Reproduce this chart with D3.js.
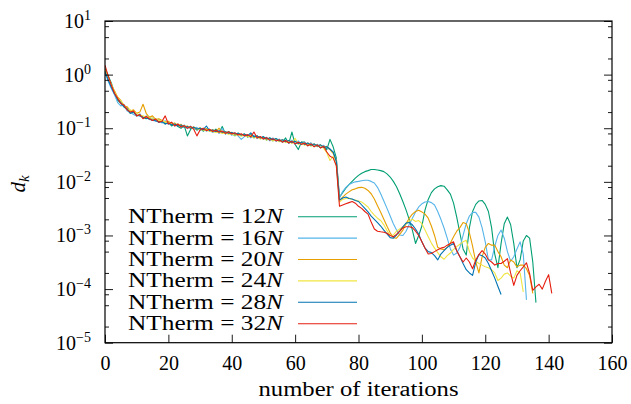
<!DOCTYPE html>
<html>
<head>
<meta charset="utf-8">
<script src="https://cdn.jsdelivr.net/npm/d3@7"></script>
<style>
  html, body { margin: 0; padding: 0; background: #fff; }
  svg { display: block; }
  text { font-family: "Liberation Serif", "Times New Roman", serif; fill: #000; }
</style>
</head>
<body>
<svg id="chart" width="631" height="404"></svg>
<script>
// ---- data (d_k per iteration, starting at iteration 0) ----
const d12 = [1.3,0.95,0.7,0.46,0.33,0.29,0.25,0.22,0.19,0.2,
0.17,0.18,0.16,0.15,0.165,0.14,0.15,0.13,0.14,0.12,
0.13,0.11,0.12,0.108,0.1,0.112,0.072,0.095,0.105,0.092,
0.1,0.088,0.098,0.09,0.085,0.096,0.082,0.108,0.078,0.087,
0.08,0.072,0.082,0.074,0.078,0.068,0.076,0.066,0.072,0.064,
0.07,0.06,0.066,0.058,0.064,0.06,0.055,0.066,0.052,0.085,
0.05,0.04,0.055,0.055,0.048,0.053,0.046,0.05,0.043,0.047,
0.04,0.062,0.045,0.028,5.2e-3,6.3e-3,7.6e-3,8.9e-3,1.02e-2,1.17e-2,
1.32e-2,1.45e-2,1.55e-2,1.62e-2,1.7e-2,1.7e-2,1.66e-2,1.62e-2,1.55e-2,1.41e-2,
1.23e-2,1.02e-2,8.1e-3,6.0e-3,4.3e-3,3.0e-3,2.0e-3,1.26e-3,7.1e-4,1.0e-3,
1.5e-3,3.0e-3,4.7e-3,6.3e-3,7.4e-3,8.1e-3,8.5e-3,8.3e-3,7.1e-3,5.9e-3,
4.0e-3,2.2e-3,1.1e-3,5.6e-4,4.3e-4,1.4e-3,2.8e-3,3.8e-3,4.4e-3,4.5e-3,
3.8e-3,2.8e-3,1.4e-3,4.5e-4,2.5e-4,7.1e-4,1.66e-3,2.2e-3,1.6e-3,7.1e-4,
2.5e-4,3.5e-4,7.9e-4,1.0e-3,8.9e-4,3.2e-4,5.6e-5];

const d16 = [1.1,0.75,0.55,0.42,0.3,0.26,0.28,0.21,0.2,0.18,
0.17,0.185,0.155,0.17,0.145,0.155,0.135,0.145,0.125,0.138,
0.118,0.128,0.11,0.12,0.105,0.115,0.098,0.11,0.095,0.104,
0.09,0.1,0.088,0.096,0.084,0.09,0.08,0.1,0.078,0.085,
0.074,0.083,0.072,0.062,0.07,0.076,0.066,0.074,0.064,0.07,
0.062,0.068,0.058,0.066,0.057,0.063,0.055,0.061,0.052,0.06,
0.05,0.058,0.05,0.055,0.047,0.053,0.046,0.05,0.044,0.048,
0.043,0.04,0.036,0.026,5.0e-3,6.6e-3,7.9e-3,8.9e-3,9.5e-3,1.0e-2,
1.02e-2,1.05e-2,1.07e-2,1.07e-2,1.02e-2,9.5e-3,7.9e-3,6.0e-3,4.4e-3,3.2e-3,
2.3e-3,1.66e-3,1.26e-3,1.02e-3,1.0e-3,1.2e-3,1.6e-3,2.1e-3,2.75e-3,3.4e-3,
3.9e-3,4.2e-3,4.3e-3,4.1e-3,3.7e-3,2.8e-3,2.0e-3,1.38e-3,8.9e-4,5.6e-4,
4.3e-4,4.7e-4,6.0e-4,1.0e-3,1.66e-3,2.3e-3,2.7e-3,2.7e-3,2.2e-3,1.4e-3,
7.6e-4,3.5e-4,3.5e-4,6.3e-4,1.0e-3,1.26e-3,8.9e-4,5.0e-4,3.3e-4,4.0e-4,
5.6e-4,7.6e-4,4.5e-4,6.3e-5];

const d20 = [1.25,0.9,0.62,0.5,0.38,0.33,0.26,0.25,0.21,0.22,
0.19,0.2,0.28,0.19,0.16,0.17,0.145,0.15,0.14,0.13,
0.135,0.12,0.125,0.112,0.118,0.105,0.11,0.1,0.106,0.096,
0.102,0.092,0.098,0.09,0.094,0.086,0.1,0.082,0.087,0.079,
0.084,0.076,0.08,0.073,0.077,0.07,0.074,0.067,0.071,0.064,
0.068,0.062,0.066,0.059,0.063,0.057,0.061,0.055,0.059,0.053,
0.057,0.051,0.055,0.05,0.053,0.048,0.051,0.046,0.049,0.044,
0.046,0.04,0.034,0.025,4.4e-3,5.2e-3,5.9e-3,6.5e-3,7.1e-3,7.4e-3,
7.8e-3,7.9e-3,7.6e-3,6.9e-3,6.0e-3,4.8e-3,3.6e-3,2.7e-3,2.0e-3,1.48e-3,
1.12e-3,9.1e-4,8.9e-4,1.05e-3,1.26e-3,1.66e-3,2.1e-3,2.5e-3,2.8e-3,2.95e-3,
2.75e-3,2.5e-3,2.1e-3,1.5e-3,1.0e-3,6.0e-4,5.6e-4,5.4e-4,6.0e-4,7.2e-4,
9.5e-4,1.2e-3,1.4e-3,1.74e-3,1.66e-3,1.12e-3,6.3e-4,3.2e-4,2.0e-4,4.0e-4,
6.0e-4,7.1e-4,6.6e-4,6.6e-4,5.0e-4,4.0e-4,2.8e-4,2.5e-4,3.5e-4,3.2e-4,
2.6e-4,2.8e-4,2.8e-4,2.4e-4,1.8e-4,8.3e-5];

const d24 = [1.2,0.88,0.66,0.48,0.37,0.32,0.27,0.23,0.22,0.2,
0.19,0.175,0.17,0.16,0.162,0.15,0.148,0.14,0.137,0.132,
0.128,0.125,0.12,0.118,0.113,0.11,0.108,0.103,0.1,0.098,
0.096,0.093,0.092,0.088,0.087,0.083,0.085,0.08,0.082,0.077,
0.079,0.074,0.076,0.071,0.074,0.069,0.072,0.066,0.069,0.063,
0.066,0.06,0.064,0.058,0.062,0.056,0.06,0.054,0.058,0.052,
0.065,0.05,0.054,0.048,0.052,0.046,0.05,0.045,0.048,0.042,
0.035,0.025,0.03,0.02,4.2e-3,4.7e-3,4.9e-3,5.0e-3,4.7e-3,4.6e-3,
4.4e-3,4.2e-3,3.8e-3,3.4e-3,2.8e-3,2.4e-3,2.1e-3,1.9e-3,1.58e-3,1.23e-3,
1.0e-3,1.02e-3,1.2e-3,1.32e-3,1.45e-3,1.62e-3,1.86e-3,2.0e-3,1.82e-3,1.9e-3,
1.66e-3,1.26e-3,9.5e-4,7.2e-4,5.8e-4,4.8e-4,4.0e-4,3.6e-4,4.2e-4,4.7e-4,
5.5e-4,6.2e-4,6.9e-4,7.6e-4,8.1e-4,5.0e-4,3.8e-4,3.3e-4,3.0e-4,2.8e-4,
2.6e-4,2.5e-4,2.3e-4,2.0e-4,1.45e-4,1.6e-4,1.9e-4,2.0e-4,1.74e-4,1.6e-4,
2.2e-4,2.0e-4,8.9e-5];

const d28 = [1.15,0.8,0.58,0.44,0.35,0.3,0.25,0.23,0.19,0.2,
0.175,0.17,0.16,0.155,0.148,0.14,0.138,0.13,0.133,0.12,
0.125,0.116,0.12,0.11,0.115,0.104,0.108,0.1,0.104,0.097,
0.1,0.094,0.11,0.09,0.093,0.087,0.09,0.084,0.086,0.081,
0.083,0.078,0.08,0.075,0.078,0.072,0.082,0.069,0.072,0.066,
0.069,0.063,0.066,0.061,0.064,0.058,0.061,0.056,0.059,0.054,
0.057,0.052,0.055,0.05,0.053,0.048,0.051,0.046,0.049,0.044,
0.045,0.041,0.036,0.024,4.6e-3,5.0e-3,5.2e-3,4.9e-3,4.8e-3,4.5e-3,
4.3e-3,3.7e-3,3.2e-3,2.75e-3,2.3e-3,2.0e-3,1.74e-3,1.5e-3,1.26e-3,1.07e-3,
9.1e-4,8.9e-4,1.02e-3,1.2e-3,1.45e-3,1.7e-3,1.74e-3,1.58e-3,1.32e-3,1.05e-3,
7.6e-4,5.8e-4,5.0e-4,4.8e-4,4.2e-4,3.5e-4,4.5e-4,5.2e-4,6.0e-4,6.6e-4,
7.1e-4,5.2e-4,4.0e-4,3.0e-4,2.3e-4,2.0e-4,1.8e-4,3.2e-4,4.4e-4,4.2e-4,
3.8e-4,3.0e-4,2.2e-4,1.6e-4,1.12e-4,7.9e-5];

const d32 = [1.5,0.95,0.64,0.45,0.36,0.29,0.27,0.22,0.2,0.21,
0.17,0.18,0.15,0.165,0.15,0.14,0.148,0.13,0.135,0.17,
0.12,0.13,0.11,0.12,0.105,0.112,0.1,0.108,0.096,0.072,
0.093,0.1,0.09,0.096,0.087,0.092,0.084,0.089,0.08,0.086,
0.078,0.082,0.075,0.079,0.072,0.076,0.069,0.085,0.066,0.07,
0.063,0.067,0.06,0.064,0.058,0.061,0.055,0.059,0.053,0.057,
0.051,0.055,0.05,0.053,0.047,0.051,0.045,0.049,0.043,0.046,
0.036,0.03,0.028,0.02,3.5e-3,3.7e-3,3.9e-3,4.1e-3,4.3e-3,4.0e-3,
3.5e-3,3.2e-3,2.8e-3,2.5e-3,1.78e-3,1.32e-3,1.2e-3,1.17e-3,1.15e-3,1.1e-3,
1.0e-3,9.5e-4,1.05e-3,1.2e-3,1.38e-3,1.45e-3,1.45e-3,1.4e-3,1.2e-3,1.0e-3,
7.6e-4,5.8e-4,4.5e-4,4.6e-4,5.0e-4,5.4e-4,5.8e-4,6.0e-4,6.6e-4,7.1e-4,
7.6e-4,5.2e-4,4.0e-4,3.2e-4,3.8e-4,3.2e-4,2.4e-4,3.5e-4,4.4e-4,5.2e-4,
4.5e-4,3.5e-4,3.2e-4,2.8e-4,3.0e-4,3.0e-4,3.3e-4,3.7e-4,2.0e-4,1.17e-4,
1.8e-4,2.2e-4,2.6e-4,3.1e-4,1.95e-4,9.5e-5,1.1e-4,1.23e-4,1.0e-4,1.4e-4,
1.86e-4,8.3e-5];

const seriesValues = [d12, d16, d20, d24, d28, d32];
const seriesFactors = ["12", "16", "20", "24", "28", "32"];
const xTickValues = [0, 20, 40, 60, 80, 100, 120, 140, 160];
const yMajorTicks = [1e-5, 1e-4, 1e-3, 1e-2, 1e-1, 1e0, 1e1];
const yExponents = ["−5", "−4", "−3", "−2", "−1", "0", "1"];
const yMinorMultipliers = [2, 5, 8];

// ---- styles ----
const colors = ["#009e73", "#56b4e9", "#e69f00", "#f0e442", "#0072b2", "#e51e10"];

const svg = d3.select("#chart");
const L = 105, R = 612, T = 21, B = 342.7;

const x = d3.scaleLinear().domain([0, 160]).range([L, R]);
const y = d3.scaleLog().domain([1e-5, 10]).range([B, T]);

const yMinor = [];
for (let e = -5; e < 1; e++) yMinorMultipliers.forEach(m => yMinor.push(m * Math.pow(10, e)));

// lines (clipped to plot)
svg.append("clipPath").attr("id", "clip").append("rect")
  .attr("x", L).attr("y", T).attr("width", R - L).attr("height", B - T);

const line = d3.line().x((d, i) => x(i)).y(d => y(d));
const gLines = svg.append("g").attr("clip-path", "url(#clip)");
seriesValues.forEach((vals, k) => {
  gLines.append("path").datum(vals)
    .attr("d", line)
    .attr("fill", "none")
    .attr("stroke", colors[k])
    .attr("stroke-width", 1.1)
    .attr("stroke-linejoin", "round");
});

// axes
const tickStyle = g => {
  g.select(".domain").remove();
  g.selectAll(".tick line").attr("stroke", "#000").attr("stroke-width", 0.9);
};

// bottom
const xAxis = svg.append("g").attr("transform", `translate(0,${B})`)
  .call(d3.axisBottom(x).tickValues(xTickValues).tickSize(-8).tickPadding(13).tickFormat(d3.format("d")))
  .call(tickStyle);
xAxis.selectAll("text").attr("font-size", 20).attr("font-family", "Liberation Serif");

// left major
const yAxisL = svg.append("g").attr("transform", `translate(${L},0)`)
  .call(d3.axisLeft(y).tickValues(yMajorTicks).tickSize(-8).tickPadding(14).tickFormat(""))
  .call(tickStyle);
yAxisL.selectAll(".tick text").each(function(d) {
  const t = d3.select(this);
  t.text(null).attr("font-size", 20).attr("font-family", "Liberation Serif");
  t.append("tspan").text("10");
  t.append("tspan").attr("dy", -8).attr("font-size", 14).text(yExponents[yMajorTicks.indexOf(d)]);
});
svg.append("g").attr("transform", `translate(${L},0)`)
  .call(d3.axisLeft(y).tickValues(yMinor).tickSize(-4).tickFormat(""))
  .call(tickStyle);

// right
svg.append("g").attr("transform", `translate(${R},0)`)
  .call(d3.axisRight(y).tickValues(yMajorTicks).tickSize(-8).tickFormat(""))
  .call(tickStyle);
svg.append("g").attr("transform", `translate(${R},0)`)
  .call(d3.axisRight(y).tickValues(yMinor).tickSize(-4).tickFormat(""))
  .call(tickStyle);

// frame
svg.append("rect").attr("x", L).attr("y", T).attr("width", R - L).attr("height", B - T)
  .attr("fill", "none").attr("stroke", "#000").attr("stroke-width", 1.2);

// axis titles
svg.append("text").attr("x", (L + R) / 2).attr("y", 396)
  .attr("text-anchor", "middle").attr("font-size", 20)
  .attr("textLength", 200).attr("lengthAdjust", "spacingAndGlyphs")
  .text("number of iterations");

const yl = svg.append("text").attr("transform", "translate(25,184) rotate(-90)")
  .attr("text-anchor", "middle").attr("font-size", 21);
yl.append("tspan").attr("font-style", "italic").text("d");
yl.append("tspan").attr("font-style", "italic").attr("font-size", 15).attr("dy", 4).text("k");

// legend
const legY0 = 216.7, legDy = 21.4;
seriesFactors.forEach((f, k) => {
  const yy = legY0 + k * legDy;
  const t = svg.append("text").attr("x", 283).attr("y", yy + 6.5)
    .attr("text-anchor", "end").attr("font-size", 20)
    .attr("textLength", 155).attr("lengthAdjust", "spacingAndGlyphs");
  t.append("tspan").text(`NTherm = ${f}`);
  t.append("tspan").attr("font-style", "italic").text("N");
  svg.append("line").attr("x1", 298).attr("x2", 357).attr("y1", yy).attr("y2", yy)
    .attr("stroke", colors[k]).attr("stroke-width", 1.1);
});
</script>
</body>
</html>
